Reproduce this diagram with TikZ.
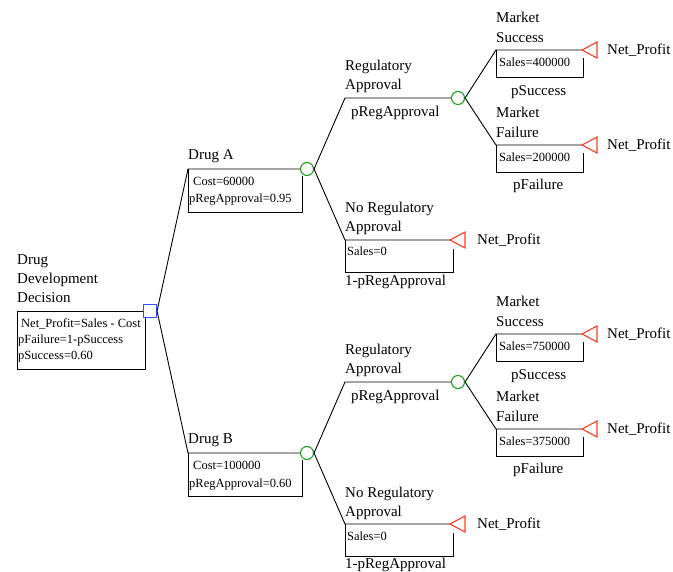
\documentclass[tikz,border=0pt]{standalone}
\usepackage{fontspec}
\setmainfont{Liberation Serif}
\definecolor{decblue}{RGB}{50,80,255}
\definecolor{chgreen}{RGB}{30,160,30}
\definecolor{termred}{RGB}{255,60,30}
\newcommand\drugbranch[8]{%
\begin{scope}[shift={(0,#1)}]
  % drug branch
  \coordinate (#2) at (188,169);
  \node[big] (#2-lab) at (188,160) {#3};
  \node[chance] (#2-c) at (307,169) {};
  \draw[conn] (root.east) -- (#2) -- (#2-c.west);
  \draw[conn] (#2) -- (188,212) -- (302,212) -- (302,176);
  \node[small] (#2-cost) at (193,186) {#4};
  \node[small] (#2-preg) at (189,203) {#5};
  % regulatory approval
  \coordinate (#2-R) at (345,98);
  \node[chance] (#2-Rc) at (458,98) {};
  \draw[conn] (#2-c.east) -- (#2-R) -- (#2-Rc.west);
  \node[big] (#2-Rl1) at (345,71) {Regulatory};
  \node[big] (#2-Rl2) at (345,90) {Approval};
  \node[big] (#2-Rp) at (351,117) {pRegApproval};
  % market success
  \coordinate (#2-S) at (496,50);
  \coordinate (#2-St) at (582,50);
  \draw[conn] (#2-Rc.east) -- (#2-S) -- (#2-St);
  \draw[conn] (#2-S) -- (496,77) -- (583,77) -- (583,58);
  \draw[term] (#2-St) -- ++(15,-8) -- ++(0,16) -- cycle;
  \node[big] (#2-Sl1) at (496,23) {Market};
  \node[big] (#2-Sl2) at (496,43) {Success};
  \node[small] (#2-Ss) at (499,67) {Sales=#6};
  \node[big] (#2-Sp) at (511,96) {pSuccess};
  \node[big] (#2-Sn) at (607,55) {Net\_Profit};
  % market failure
  \coordinate (#2-F) at (496,145);
  \coordinate (#2-Ft) at (582,145);
  \draw[conn] (#2-Rc.east) -- (#2-F) -- (#2-Ft);
  \draw[conn] (#2-F) -- (496,172) -- (583,172) -- (583,153);
  \draw[term] (#2-Ft) -- ++(15,-8) -- ++(0,16) -- cycle;
  \node[big] (#2-Fl1) at (496,118) {Market};
  \node[big] (#2-Fl2) at (496,138) {Failure};
  \node[small] (#2-Fs) at (499,162) {Sales=#7};
  \node[big] (#2-Fp) at (513,190) {pFailure};
  \node[big] (#2-Fn) at (607,150) {Net\_Profit};
  % no regulatory approval
  \coordinate (#2-N) at (345,240);
  \coordinate (#2-Nt) at (450,240);
  \draw[conn] (#2-c.east) -- (#2-N) -- (#2-Nt);
  \draw[conn] (#2-N) -- (345,272) -- (453,272) -- (453,249);
  \draw[term] (#2-Nt) -- ++(15,-8) -- ++(0,16) -- cycle;
  \node[big] (#2-Nl1) at (345,213) {No Regulatory};
  \node[big] (#2-Nl2) at (345,232) {Approval};
  \node[small] (#2-Ns) at (347,256) {Sales=0};
  \node[big] (#2-Np) at (345,#8) {1-pRegApproval};
  \node[big] (#2-Nn) at (477,245) {Net\_Profit};
\end{scope}}
\begin{document}
\begin{tikzpicture}[x=1pt,y=-1pt,
  conn/.style={draw=black, line width=0.9pt},
  big/.style={font=\fontsize{15}{19}\selectfont, inner sep=0pt, anchor=base west},
  small/.style={font=\fontsize{12.5}{16}\selectfont, inner sep=0pt, anchor=base west},
  dec/.style={draw=decblue, rectangle, minimum size=13pt, inner sep=0pt, line width=1.1pt},
  chance/.style={draw=chgreen, circle, minimum size=13pt, inner sep=0pt, line width=1.1pt},
  term/.style={draw=termred, line width=1.1pt, line join=miter}]
\useasboundingbox (0,0) rectangle (673,572);
\node[dec] (root) at (150,311) {};
\draw[conn] (root.west) -- (17,311) -- (17,369) -- (145,369) -- (145,318);
\node[big] (rl1) at (17,265) {Drug};
\node[big] (rl2) at (17,284) {Development};
\node[big] (rl3) at (17,303) {Decision};
\node[small] (rb1) at (21,328) {Net\_Profit=Sales - Cost};
\node[small] (rb2) at (18,344) {pFailure=1-pSuccess};
\node[small] (rb3) at (18,360) {pSuccess=0.60};
\drugbranch{0}{A}{Drug A}{Cost=60000}{pRegApproval=0.95}{400000}{200000}{286}
\drugbranch{284}{B}{Drug B}{Cost=100000}{pRegApproval=0.60}{750000}{375000}{284}
\end{tikzpicture}
\end{document}
